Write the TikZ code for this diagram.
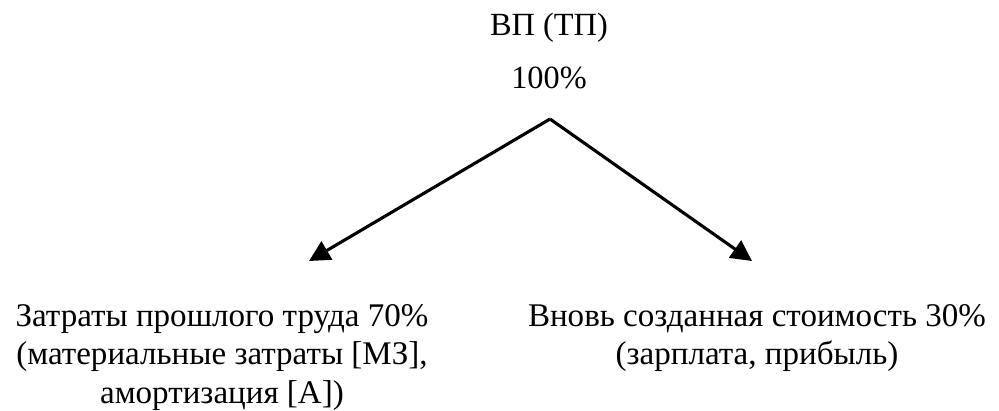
\documentclass[tikz,border=0pt]{standalone}
\usepackage{fontspec}
\IfFontExistsTF{LiberationSerif-Regular.ttf}
  {\setmainfont{LiberationSerif-Regular.ttf}}
  {\setmainfont{Liberation Serif}}
\usetikzlibrary{arrows.meta}

\tikzset{
  share/.style={align=center, inner sep=0pt, anchor=north,
    font=\fontsize{23.5pt}{27.4pt}\selectfont},
  split/.style={line width=2.2pt, -{Triangle[length=0.52cm,width=0.52cm]}},
}

\begin{document}
\begin{tikzpicture}[x=0.025cm, y=-0.025cm]
  \useasboundingbox (0,0) rectangle (999,410);

  % whole output at the top
  \node[share, font=\fontsize{23pt}{37.7pt}\selectfont] (total) at (549,13)
    {ВП (ТП)\\100\%};

  \pgfmathsetmacro{\y}{304}
  \node[share] (past) at (222,\y)
    {Затраты прошлого труда 70\%\\(материальные затраты [МЗ],\\амортизация [А])};
  \node[share] (new) at (757,\y)
    {Вновь созданная стоимость 30\%\\(зарплата, прибыль)};

  \coordinate (apex) at (550,119);
  \coordinate (pasttip) at (309,261);
  \coordinate (newtip) at (752,261);
  \draw[split] (apex) -- (pasttip);
  \draw[split] (apex) -- (newtip);
\end{tikzpicture}
\end{document}
